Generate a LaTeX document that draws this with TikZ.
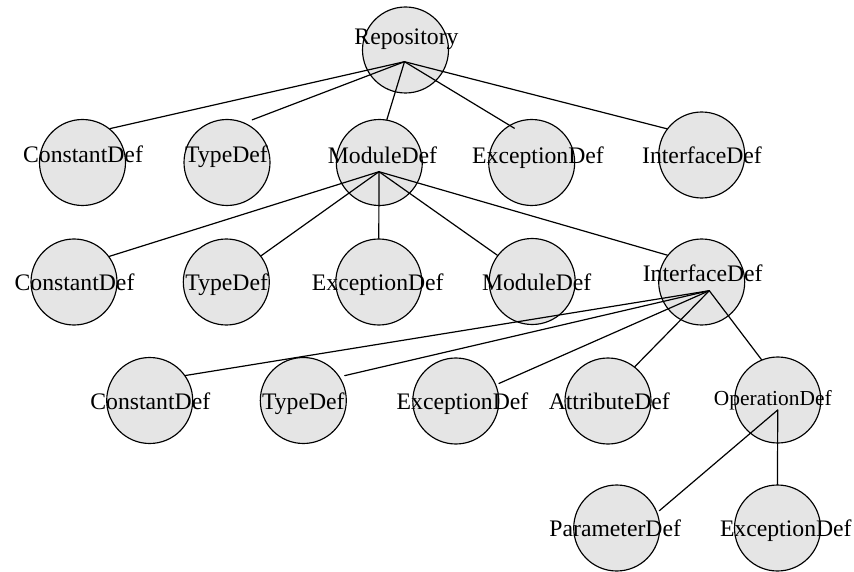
\documentclass[tikz,border=0pt]{standalone}
\usepackage{fontspec}
\setmainfont{Liberation Serif}
\definecolor{objfill}{RGB}{229,229,229}
\begin{document}
\begin{tikzpicture}[x=1pt,y=-1pt,
  obj/.style={circle, draw=black, line width=1.15pt, fill=objfill,
              minimum size=86pt, inner sep=0pt},
  lbl/.style={anchor=base, inner sep=0pt, font=\fontsize{23.7}{28}\selectfont},
  lblsmall/.style={anchor=base, inner sep=0pt, font=\fontsize{21.4}{26}\selectfont},
  link/.style={line width=1.2pt, line cap=round}]
\useasboundingbox (0,0) rectangle (854,572);

% ---- containment tree: object circles ----
\node[obj] (rep) at (405.5,50) {};

\node[obj] (c2) at (82.5,162.5) {};
\node[obj] (t2) at (227,162.5) {};
\node[obj] (m2) at (379.3,162.5) {};
\node[obj] (e2) at (531.7,162.5) {};
\node[obj] (i2) at (701.7,155) {};

\node[obj] (c3) at (74,282) {};
\node[obj] (t3) at (226.3,282) {};
\node[obj] (e3) at (378.8,282) {};
\node[obj] (m3) at (532.2,281.5) {};
\node[obj] (i3) at (701.7,282) {};

\node[obj] (c4) at (149.7,400.5) {};
\node[obj] (t4) at (303.3,400.5) {};
\node[obj] (e4) at (455.8,401) {};
\node[obj] (a4) at (608,401) {};
\node[obj] (o4) at (777.8,400) {};

\node[obj] (p5) at (616.7,528) {};
\node[obj] (e5) at (777.5,528) {};

% ---- points where the child links of each container meet ----
\coordinate (rep-hub) at (404.5,61.7);
\coordinate (m2-hub) at (379,171.7);
\coordinate (i3-hub) at (709.3,290.7);
\coordinate (o4-hub) at (777.7,410);

% ---- links ----
\draw[link] (rep-hub) -- (c2.51);
\draw[link, shorten >=8pt] (rep-hub) -- (t2.66);
\draw[link] (rep-hub) -- (m2.80);
\draw[link, shorten >=-6pt] (rep-hub) -- (e2.121);
\draw[link] (rep-hub) -- (i2.143);

\draw[link] (m2-hub) -- (c3.36);
\draw[link] (m2-hub) -- (t3.37);
\draw[link] (m2-hub) -- (e3.90);
\draw[link] (m2-hub) -- (m3.143);
\draw[link] (m2-hub) -- (i3.142);

\draw[link] (i3-hub) -- (c4.35);
\draw[link, shorten >=5pt] (i3-hub) -- (t4.33);
\draw[link, shorten >=3pt] (i3-hub) -- (e4.22);
\draw[link] (i3-hub) -- (a4.52);
\draw[link] (i3-hub) -- (o4.112);

\draw[link, shorten >=2.6pt] (o4-hub) -- (p5.21);
\draw[link] (o4-hub) -- (e5.90);

% ---- labels ----
\node[lbl] (rep-t) at (406.5,45) {Repository};

\node[lbl] (c2-t) at (83,163) {ConstantDef};
\node[lbl] (t2-t) at (226.5,163) {TypeDef};
\node[lbl] (m2-t) at (382.5,163.3) {ModuleDef};
\node[lbl] (e2-t) at (538,163.3) {ExceptionDef};
\node[lbl] (i2-t) at (702,163.3) {InterfaceDef};

\node[lbl] (c3-t) at (74.5,290.7) {ConstantDef};
\node[lbl] (t3-t) at (226.7,290.7) {TypeDef};
\node[lbl] (e3-t) at (377.8,290.7) {ExceptionDef};
\node[lbl] (m3-t) at (536.7,290.7) {ModuleDef};
\node[lbl] (i3-t) at (702.7,281.7) {InterfaceDef};

\node[lbl] (c4-t) at (150.3,409) {ConstantDef};
\node[lbl] (t4-t) at (303.3,409) {TypeDef};
\node[lbl] (e4-t) at (462.5,409) {ExceptionDef};
\node[lbl] (a4-t) at (609.3,409) {AttributeDef};
\node[lblsmall] (o4-t) at (772.8,405) {OperationDef};

\node[lbl] (p5-t) at (615.2,536.7) {ParameterDef};
\node[lbl] (e5-t) at (785.8,536.7) {ExceptionDef};
\end{tikzpicture}
\end{document}
